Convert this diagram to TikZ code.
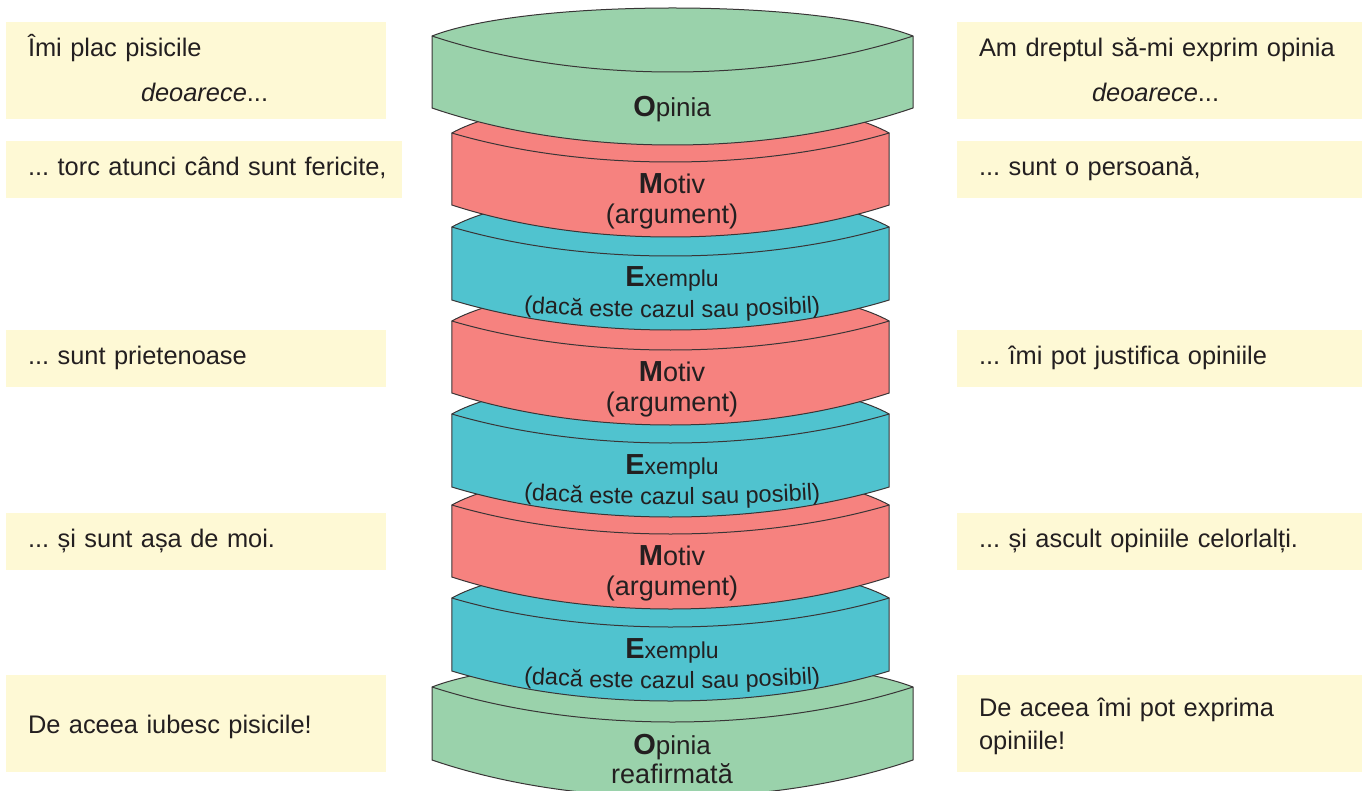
\documentclass[tikz,border=0pt]{standalone}
\usepackage{fontspec}
\setmainfont{Liberation Sans}
\usetikzlibrary{
  decorations.text,
  positioning,
}
\definecolor{inkc}{HTML}{231F20}
\definecolor{notec}{HTML}{FEF9D5}
\definecolor{opic}{HTML}{9AD2AB}
\definecolor{motc}{HTML}{F6827F}
\definecolor{exc}{HTML}{50C3CF}
\tikzset{
  x = 1pt,
  y = -1pt,
  note/.style={
    fill=notec, anchor=north west, minimum height=57pt,
    inner sep=0pt, inner xsep=22pt, outer sep=0pt, text=inkc, align=left,
    font=\fontsize{25.4}{33}\selectfont, text depth=12pt,
    execute at begin node=\strut,
  },
  notel/.style={note, minimum width=380pt, text width=336pt},
  noter/.style={note, minimum width=405pt, text width=361pt},
  lbl/.style={
    text=inkc, align=center, inner sep=0pt, outer sep=0pt,
    font=\fontsize{27}{30}\selectfont,
  },
  disk/.style={draw=inkc!90, line width=1pt, line join=round},
}
% [centre x] fill colour, half width, corner y, side height, back rise, front drop, bottom drop
\newcommand{\Disk}[8][672.5]{
  \draw[disk, fill=#2]
    (#1-#3,#4) .. controls (#1-.6*#3,#4-#6/.75) and (#1+.6*#3,#4-#6/.75) .. (#1+#3,#4)
    -- (#1+#3,#4+#5)
    .. controls (#1+.4*#3,#4+#5+#8/.75) and (#1-.4*#3,#4+#5+#8/.75) .. (#1-#3,#4+#5)
    -- cycle;
  \draw[disk]
    (#1-#3,#4) .. controls (#1-.4*#3,#4+#7/.75) and (#1+.4*#3,#4+#7/.75) .. (#1+#3,#4);
}
\newcommand{\Ini}[1]{{\fontsize{29}{30}\selectfont\bfseries #1}}
\newcommand{\Far}{\hspace*{113pt}}
\begin{document}
\frenchspacing
\begin{tikzpicture}
  \useasboundingbox (0,0) rectangle (1362,791);
  \clip (0,0) rectangle (1362,791);
  %% left notes
  \node[notel, minimum height=97pt, text depth=52pt](LOpi) at (6,22){Îmi plac pisicile\\[12pt]\Far\textit{deoarece}...};
  \node[notel, minimum width=396pt, text width=352pt](LMa) at (6,141){\mbox{... torc atunci când sunt fericite,}};
  \node[notel](LMb) at (6,330){... sunt prietenoase};
  \node[notel](LMc) at (6,513){... și sunt așa de moi.};
  \node[notel, minimum height=97pt, text depth=4pt](LEnd) at (6,675){De aceea iubesc pisicile!};
  %% right notes
  \node[noter, minimum height=97pt, text depth=52pt](ROpi) at (957,22){Am dreptul să-mi exprim opinia\\[12pt]\Far\textit{deoarece}...};
  \node[noter](RMa) at (957,141){... sunt o persoană,};
  \node[noter](RMb) at (957,330){... îmi pot justifica opiniile};
  \node[noter](RMc) at (957,513){... și ascult opiniile celorlalți.};
  \node[noter, minimum height=97pt, text depth=38pt](REnd) at (957,675){De aceea îmi pot exprima\\opiniile!};
  %% stack, from the bottom up
  \Disk{opic}{240.5}{687}{73}{28}{35}{37}
  \node[lbl, font=\fontsize{26}{29}\selectfont](OpiEnd) at (672,759){\Ini{O}pinia\\{\fontsize{27}{29}\selectfont reafirmată}};
  \foreach \n/\m/\e in {c/505/598, b/321/414, a/133/227}{
    \Disk[670.5]{exc}{218.7}{\e}{73}{36}{29}{30}
    \node[lbl, anchor=base, font=\fontsize{23}{30}\selectfont](Ex\n) at (672,\e+60){\Ini{E}xemplu};
    \path[decorate, decoration={text along path, text align=center,
      text={|\fontsize{23.5}{30}\selectfont\color{inkc}|(dacă este cazul sau posibil)}}]
      (492,\e+83) .. controls (600,\e+93) and (744,\e+93) .. (852,\e+83);
    \Disk[670.5]{motc}{218.7}{\m}{72}{36}{29}{32}
    \node[lbl](Mot\n) at (672,\m+68){\Ini{M}otiv\\(argument)};
  }
  \Disk{opic}{240.5}{36}{72}{28}{36}{37}
  \node[lbl, anchor=base, font=\fontsize{26}{30}\selectfont](OpiTop) at (672,117){\Ini{O}pinia};
\end{tikzpicture}
\end{document}
